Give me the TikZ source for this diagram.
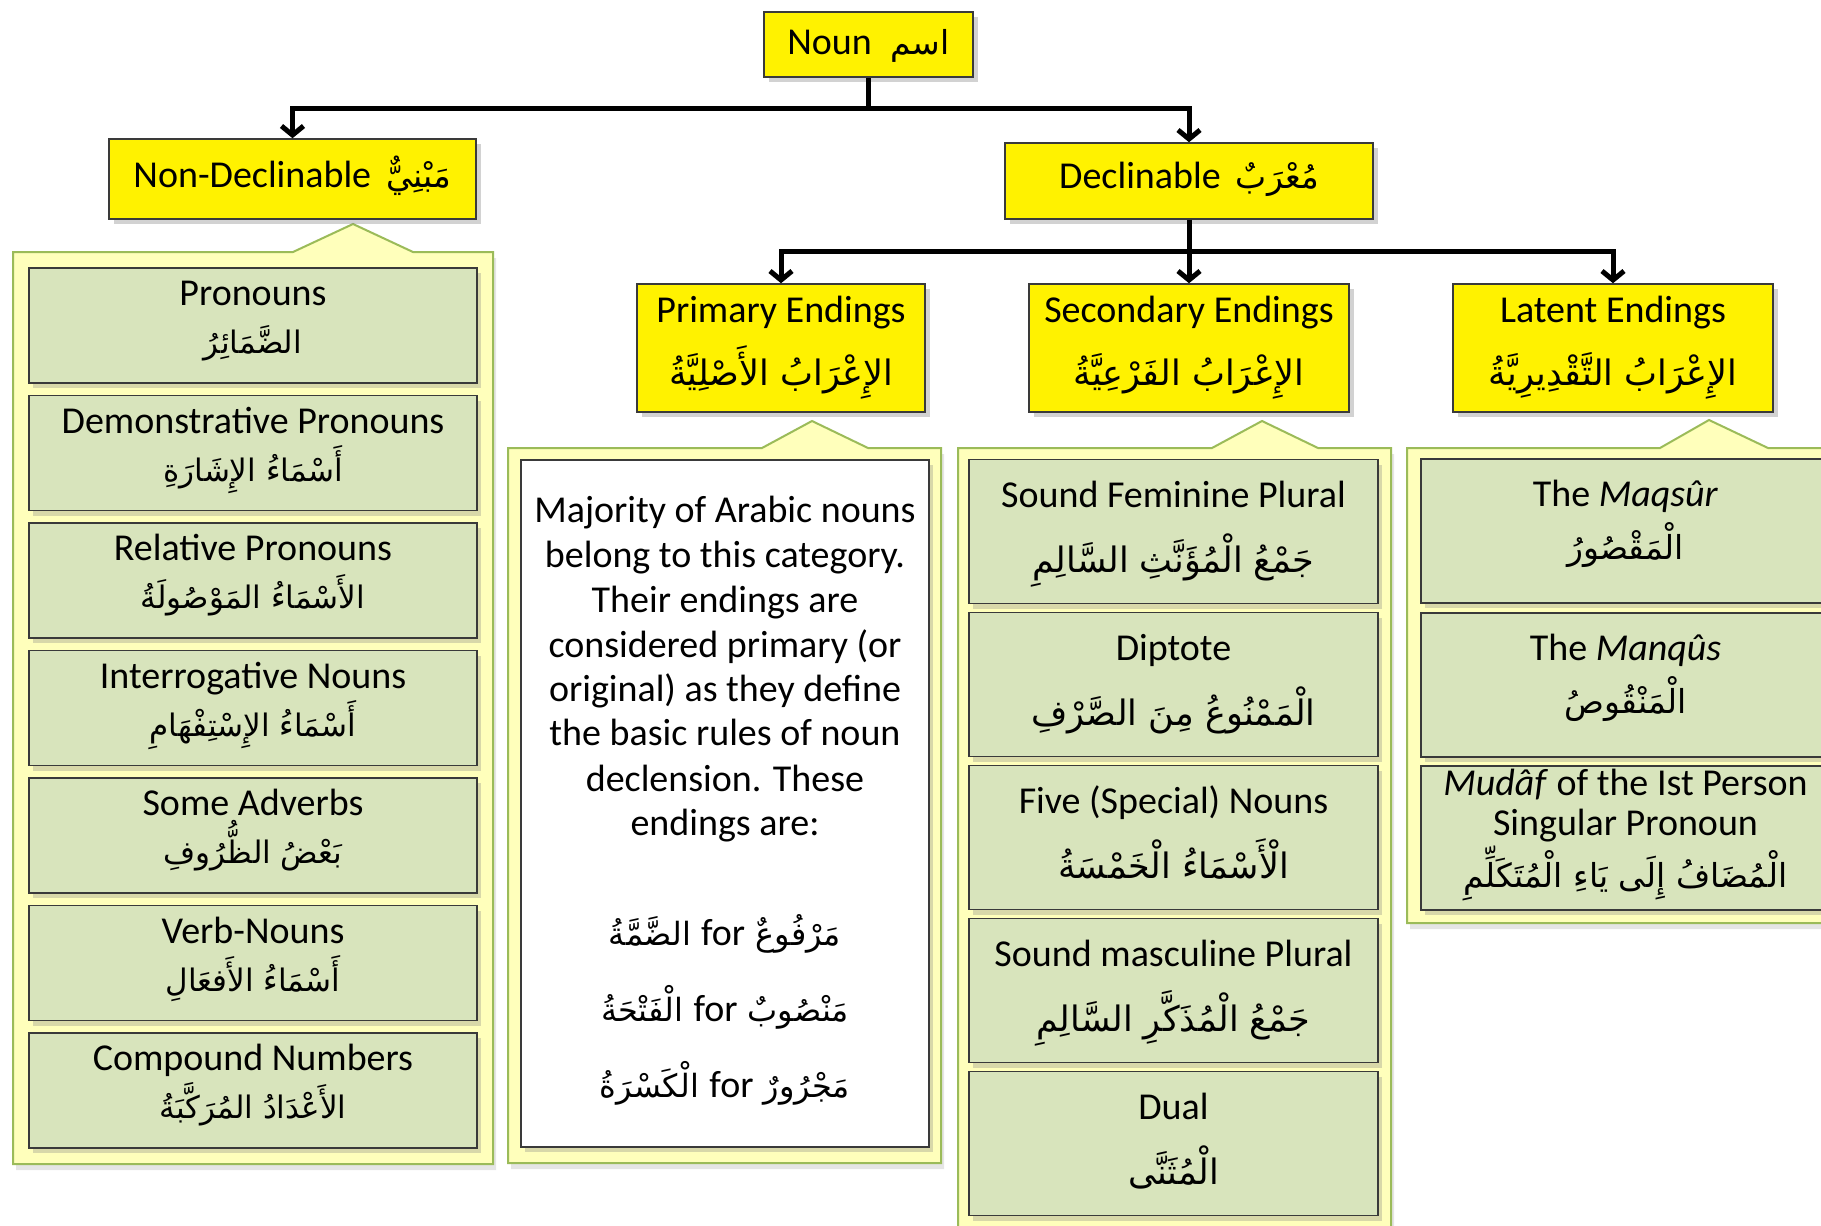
\documentclass[tikz,border=0pt]{standalone}
\usepackage{fontspec}
\setmainfont{Carlito}
\newfontfamily\arfont[Script=Arabic]{DejaVu Sans}
\TeXXeTstate=1
\usetikzlibrary{arrows.meta,shadows,calc}
\definecolor{cfill}{HTML}{FFFFBB}
\definecolor{cline}{HTML}{9BBB59}
\definecolor{gfill}{HTML}{D8E4BC}
\definecolor{bline}{HTML}{3A3A3A}
\newcommand\arsize{33}
\newcommand\ar[1]{{\fontsize{\arsize}{40}\arfont #1}}
\newcommand\en[1]{{\rmfamily\fontsize{38}{45}\selectfont #1}}
\tikzset{
  every node/.style={font=\fontsize{38}{45}\selectfont},
  ybox/.style={draw=bline, line width=1.5pt, fill=yellow, inner sep=0pt,
    drop shadow={shadow xshift=5pt, shadow yshift=-5pt, opacity=0.35}},
  gbox/.style={draw=bline, line width=1.5pt, fill=gfill, inner sep=0pt,
    drop shadow={shadow xshift=4pt, shadow yshift=-5pt, opacity=0.3}},
  wbox/.style={draw=bline, line width=1.5pt, fill=white, inner sep=0pt,
    drop shadow={shadow xshift=4pt, shadow yshift=-5pt, opacity=0.3}},
  cont/.style={draw=cline, line width=2pt, fill=cfill,
    drop shadow={shadow xshift=3pt, shadow yshift=-6pt, opacity=0.2}},
  conn/.style={line width=5pt, -{Straight Barb[length=9pt,width=22pt]}},
  txt/.style={anchor=base, inner sep=0pt},
}
\newcommand\gitem[9]{%
  \node[gbox, minimum width=#4pt, minimum height=#5pt] (#1) at (#2,#3) {};
  \node[txt] (#1e) at ($(#1.center)+(0,#6)$) {#8};
  \node[txt] (#1a) at ($(#1.center)+(0,#7)$) {\ar{#9}};
}
\begin{document}
\begin{tikzpicture}[x=1pt,y=-1pt]
\useasboundingbox (0,0) rectangle (1821,1226);
\fill[white] (0,0) rectangle (1821,1226);
\clip (0,0) rectangle (1821,1226);

% containers
\path[cont] (13,252) -- (293,252) -- (353,224) -- (413,252) -- (493,252) -- (493,1164) -- (13,1164) -- cycle;
\path[cont] (508,448) -- (762,448) -- (812,421) -- (868,448) -- (941,448) -- (941,1163) -- (508,1163) -- cycle;
\path[cont] (958,448) -- (1212,448) -- (1262,421) -- (1318,448) -- (1391,448) -- (1391,1250) -- (958,1250) -- cycle;
\path[cont] (1407,448) -- (1660,448) -- (1709,420) -- (1768,448) -- (1850,448) -- (1850,923) -- (1407,923) -- cycle;

% top level boxes
\node[ybox, minimum width=209pt, minimum height=65pt] (noun) at (868.5,44.5) {};
\node[txt] (nount) at (868.5,54) {Noun\hspace{0.5em}\ar{\beginR اسم\endR}};
\node[ybox, minimum width=367pt, minimum height=80pt] (nd) at (292.5,179) {};
\node[txt] (ndt) at (292.5,187) {Non-Declinable\hspace{0.4em}\ar{\beginR مَبْنِيٌّ\endR}};
\node[ybox, minimum width=368pt, minimum height=76pt] (decl) at (1189,181) {};
\node[txt] (declt) at (1189,188) {Declinable\hspace{0.4em}\ar{\beginR مُعْرَبٌ\endR}};

% second level boxes
\renewcommand\arsize{35}
\node[ybox, minimum width=288pt, minimum height=128pt] (prim) at (781,348) {};
\node[txt] (prime) at ($(prim.center)+(0,-26)$) {Primary Endings};
\node[txt] (prima) at ($(prim.center)+(0,37)$) {\ar{\beginR الإِعْرَابُ الأَصْلِيَّةُ\endR}};
\node[ybox, minimum width=320pt, minimum height=128pt] (sec) at (1189,348) {};
\node[txt] (sece) at ($(sec.center)+(0,-26)$) {Secondary Endings};
\node[txt] (seca) at ($(sec.center)+(0,37)$) {\ar{\beginR الإِعْرَابُ الفَرْعِيَّةُ\endR}};
\node[ybox, minimum width=320pt, minimum height=128pt] (lat) at (1613,348) {};
\node[txt] (late) at ($(lat.center)+(0,-26)$) {Latent Endings};
\node[txt] (lata) at ($(lat.center)+(0,37)$) {\ar{\beginR الإِعْرَابُ التَّقْدِيرِيَّةُ\endR}};

% connectors
\draw[conn] (noun.south) -- ++(0,31) -| (nd.north);
\draw[conn] (noun.south) -- ++(0,31) -| (decl.north);
\draw[conn] (decl.south) -- ++(0,32) -| (prim.north);
\draw[conn] (decl.south) -- ++(0,32) -| (sec.north);
\draw[conn] (decl.south) -- ++(0,32) -| (lat.north);

% non-declinable items
\renewcommand\arsize{31}
\gitem{a1}{253}{325.5}{448}{115}{-20}{28}{Pronouns}{\beginR الضَّمَائِرُ\endR}
\gitem{a2}{253}{453}{448}{115}{-20}{28}{Demonstrative Pronouns}{\beginR أَسْمَاءُ الإِشَارَةِ\endR}
\gitem{a3}{253}{580.5}{448}{115}{-20}{28}{Relative Pronouns}{\beginR الأَسْمَاءُ المَوْصُولَةُ\endR}
\gitem{a4}{253}{708}{448}{115}{-20}{28}{Interrogative Nouns}{\beginR أَسْمَاءُ الإِسْتِفْهَامِ\endR}
\gitem{a5}{253}{835.5}{448}{115}{-20}{28}{Some Adverbs}{\beginR بَعْضُ الظُّرُوفِ\endR}
\gitem{a6}{253}{963}{448}{115}{-20}{28}{Verb-Nouns}{\beginR أَسْمَاءُ الأَفعَالِ\endR}
\gitem{a7}{253}{1090.5}{448}{115}{-20}{28}{Compound Numbers}{\beginR الأَعْدَادُ المُرَكَّبَةُ\endR}

% primary endings text box
\renewcommand\arsize{32}
\node[wbox, minimum width=408pt, minimum height=687pt] (wb) at (725,803.5) {};
\node[txt] (w1) at (725,522) {Majority of Arabic nouns};
\node[txt] (w2) at (725,567) {belong to this category.};
\node[txt] (w3) at (725,612) {Their endings are};
\node[txt] (w4) at (725,657) {considered primary (or};
\node[txt] (w5) at (725,701) {original) as they define};
\node[txt] (w6) at (725,745) {the basic rules of noun};
\node[txt] (w7) at (725,791) {declension. These};
\node[txt] (w8) at (725,835) {endings are:};
\node[txt] (w9) at (725,945) {\ar{\beginR مَرْفُوعٌ \beginL\en{for}\endL{} الضَّمَّةُ\endR}};
\node[txt] (w10) at (725,1021) {\ar{\beginR مَنْصُوبٌ \beginL\en{for}\endL{} الْفَتْحَةُ\endR}};
\node[txt] (w11) at (725,1097) {\ar{\beginR مَجْرُورٌ \beginL\en{for}\endL{} الْكَسْرَةُ\endR}};

% secondary endings items
\renewcommand\arsize{35}
\gitem{b1}{1173.5}{531.5}{409}{144}{-24.5}{40.5}{Sound Feminine Plural}{\beginR جَمْعُ الْمُؤَنَّثِ السَّالِمِ\endR}
\gitem{b2}{1173.5}{684.5}{409}{144}{-24.5}{40.5}{Diptote}{\beginR الْمَمْنُوعُ مِنَ الصَّرْفِ\endR}
\gitem{b3}{1173.5}{837.5}{409}{144}{-24.5}{40.5}{Five (Special) Nouns}{\beginR الْأَسْمَاءُ الْخَمْسَةُ\endR}
\gitem{b4}{1173.5}{990.5}{409}{144}{-24.5}{40.5}{Sound masculine Plural}{\beginR جَمْعُ الْمُذَكَّرِ السَّالِمِ\endR}
\gitem{b5}{1173.5}{1143.5}{409}{144}{-24.5}{40.5}{Dual}{\beginR الْمُثَنَّى\endR}

% latent endings items
\renewcommand\arsize{33}
\gitem{c1}{1625.5}{531}{409}{144}{-25}{28}{The \textit{Maqsûr}}{\beginR الْمَقْصُورُ\endR}
\gitem{c2}{1625.5}{685}{409}{144}{-25}{28}{The \textit{Manqûs}}{\beginR الْمَنْقُوصُ\endR}
\node[gbox, minimum width=409pt, minimum height=144pt] (c3) at (1625.5,838) {};
\node[txt] (c3e) at ($(c3.center)+(0,-43)$) {\textit{Mudâf} of the Ist Person};
\node[txt] (c3f) at ($(c3.center)+(0,-3)$) {Singular Pronoun};
\node[txt] (c3a) at ($(c3.center)+(0,49)$) {\ar{\beginR الْمُضَافُ إِلَى يَاءِ الْمُتَكَلِّمِ\endR}};
\end{tikzpicture}
\end{document}
